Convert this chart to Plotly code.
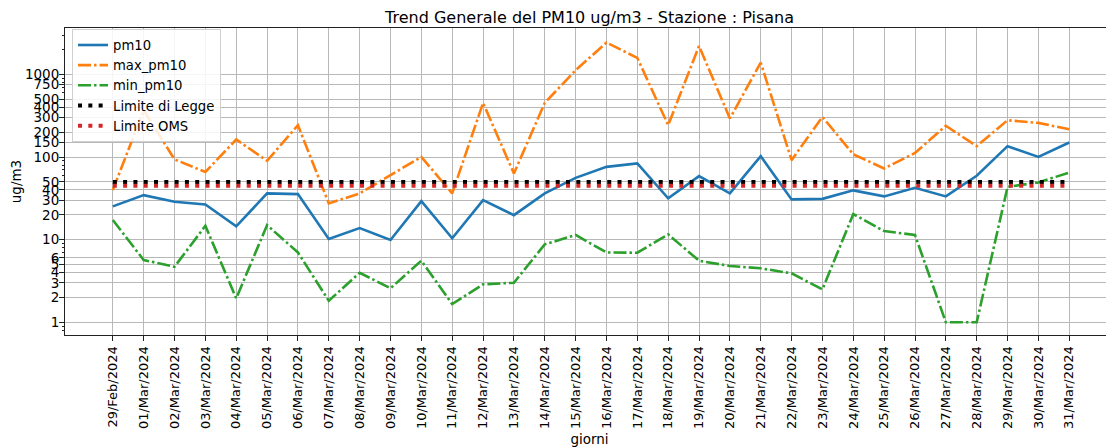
import plotly.graph_objects as go

giorni = ["29/Feb/2024"] + [f"{d:02d}/Mar/2024" for d in range(1, 32)]

pm10 = [25.3, 34.6, 28.7, 26.7, 14.5, 36.3, 35.6, 10.2, 13.8, 9.9,
        29.3, 10.4, 30.1, 19.8, 36.3, 56.0, 76.0, 83.7, 31.6, 58.7,
        36.3, 102.5, 30.7, 31.2, 39.5, 33.4, 42.4, 33.4, 59.3, 135.5,
        100.5, 150.0]

max_pm10 = [39.8, 370.0, 93.5, 66.0, 163.0, 90.0, 243.0, 27.5, 36.3, 61.0,
            100.5, 36.3, 452.0, 63.4, 452.0, 1125.0, 2430.0, 1585.0, 243.0, 2210.0,
            293.0, 1393.0, 91.8, 306.0, 108.0, 72.8, 112.0, 239.0, 135.5, 279.0,
            259.0, 217.0]

min_pm10 = [17.3, 5.67, 4.7, 14.7, 1.95, 15.0, 7.0, 1.82, 3.98, 2.58,
            5.56, 1.66, 2.88, 3.01, 8.77, 11.4, 7.0, 6.95, 11.6, 5.56,
            4.8, 4.5, 3.91, 2.5, 20.4, 12.7, 11.4, 1.0, 1.0, 43.6,
            49.3, 65.0]

limite_legge = [50] * len(giorni)
limite_oms = [45] * len(giorni)

y_ticks = [1, 2, 3, 4, 5, 6, 10, 20, 30, 40, 50, 100, 150, 200, 300, 400, 500, 750, 1000]
y_minor = [0.7, 0.8, 0.9, 7, 8, 9, 60, 70, 80, 90, 600, 700, 800, 900, 2000, 3000]

FONT = "DejaVu Sans"

fig = go.Figure()
fig.add_trace(go.Scatter(x=giorni, y=pm10, mode="lines", name="pm10",
                         line=dict(color="#1f77b4", width=2.6)))
fig.add_trace(go.Scatter(x=giorni, y=max_pm10, mode="lines", name="max_pm10",
                         line=dict(color="#ff7f0e", width=2.6, dash="13px,3px,2.5px,3px")))
fig.add_trace(go.Scatter(x=giorni, y=min_pm10, mode="lines", name="min_pm10",
                         line=dict(color="#2ca02c", width=2.6, dash="13px,3px,2.5px,3px")))
fig.add_trace(go.Scatter(x=giorni, y=limite_legge, mode="lines", name="Limite di Legge",
                         line=dict(color="black", width=4, dash="4px,6.3px")))
fig.add_trace(go.Scatter(x=giorni, y=limite_oms, mode="lines", name="Limite OMS",
                         line=dict(color="#d62728", width=4, dash="4px,6.3px")))

# page body has an 8px default margin; figure size/margins compensate for it
fig.update_layout(
    width=1106, height=439,
    margin=dict(l=57, r=0, t=20, b=112, autoexpand=False),
    paper_bgcolor="white", plot_bgcolor="white",
    font=dict(family=FONT, size=13, color="black"),
    title=dict(text="Trend Generale del PM10 ug/m3 - Stazione : Pisana",
               x=0.5, xref="paper", y=0.978, yref="container", yanchor="middle",
               font=dict(family=FONT, size=16, color="black")),
    legend=dict(x=0.0067, y=0.997, xanchor="left", yanchor="top",
                bgcolor="rgba(255,255,255,0.85)", bordercolor="#d0d0d0", borderwidth=1,
                font=dict(family=FONT, size=13.2, color="black"),
                tracegroupgap=0, itemwidth=30),
    showlegend=True,
)

fig.update_xaxes(
    type="category",
    range=[-1.55, 32.45],
    automargin=False,
    tickangle=-90,
    tickfont=dict(family=FONT, size=13),
    showgrid=True, gridcolor="#b8b8b8", gridwidth=1,
    showline=True, linecolor="#222222", linewidth=1, mirror=True,
    ticks="outside", ticklen=5, tickcolor="#222222",
    title=dict(text="giorni", font=dict(family=FONT, size=13.5), standoff=6),
    zeroline=False,
)

fig.update_yaxes(
    type="log",
    range=[-0.154, 3.562],
    automargin=False,
    tickmode="array", tickvals=y_ticks, ticktext=[str(v) for v in y_ticks],
    tickfont=dict(family=FONT, size=13.5),
    ticklabelstandoff=-3,
    showgrid=True, gridcolor="#b8b8b8", gridwidth=1,
    showline=True, linecolor="#222222", linewidth=1,
    ticks="outside", ticklen=5, tickcolor="#222222",
    minor=dict(tickmode="array", tickvals=y_minor, ticks="outside", ticklen=2.5,
               tickcolor="#222222", showgrid=False),
    title=dict(text="ug/m3", font=dict(family=FONT, size=13.5), standoff=4),
    zeroline=False,
)

fig.write_html("out.html")
